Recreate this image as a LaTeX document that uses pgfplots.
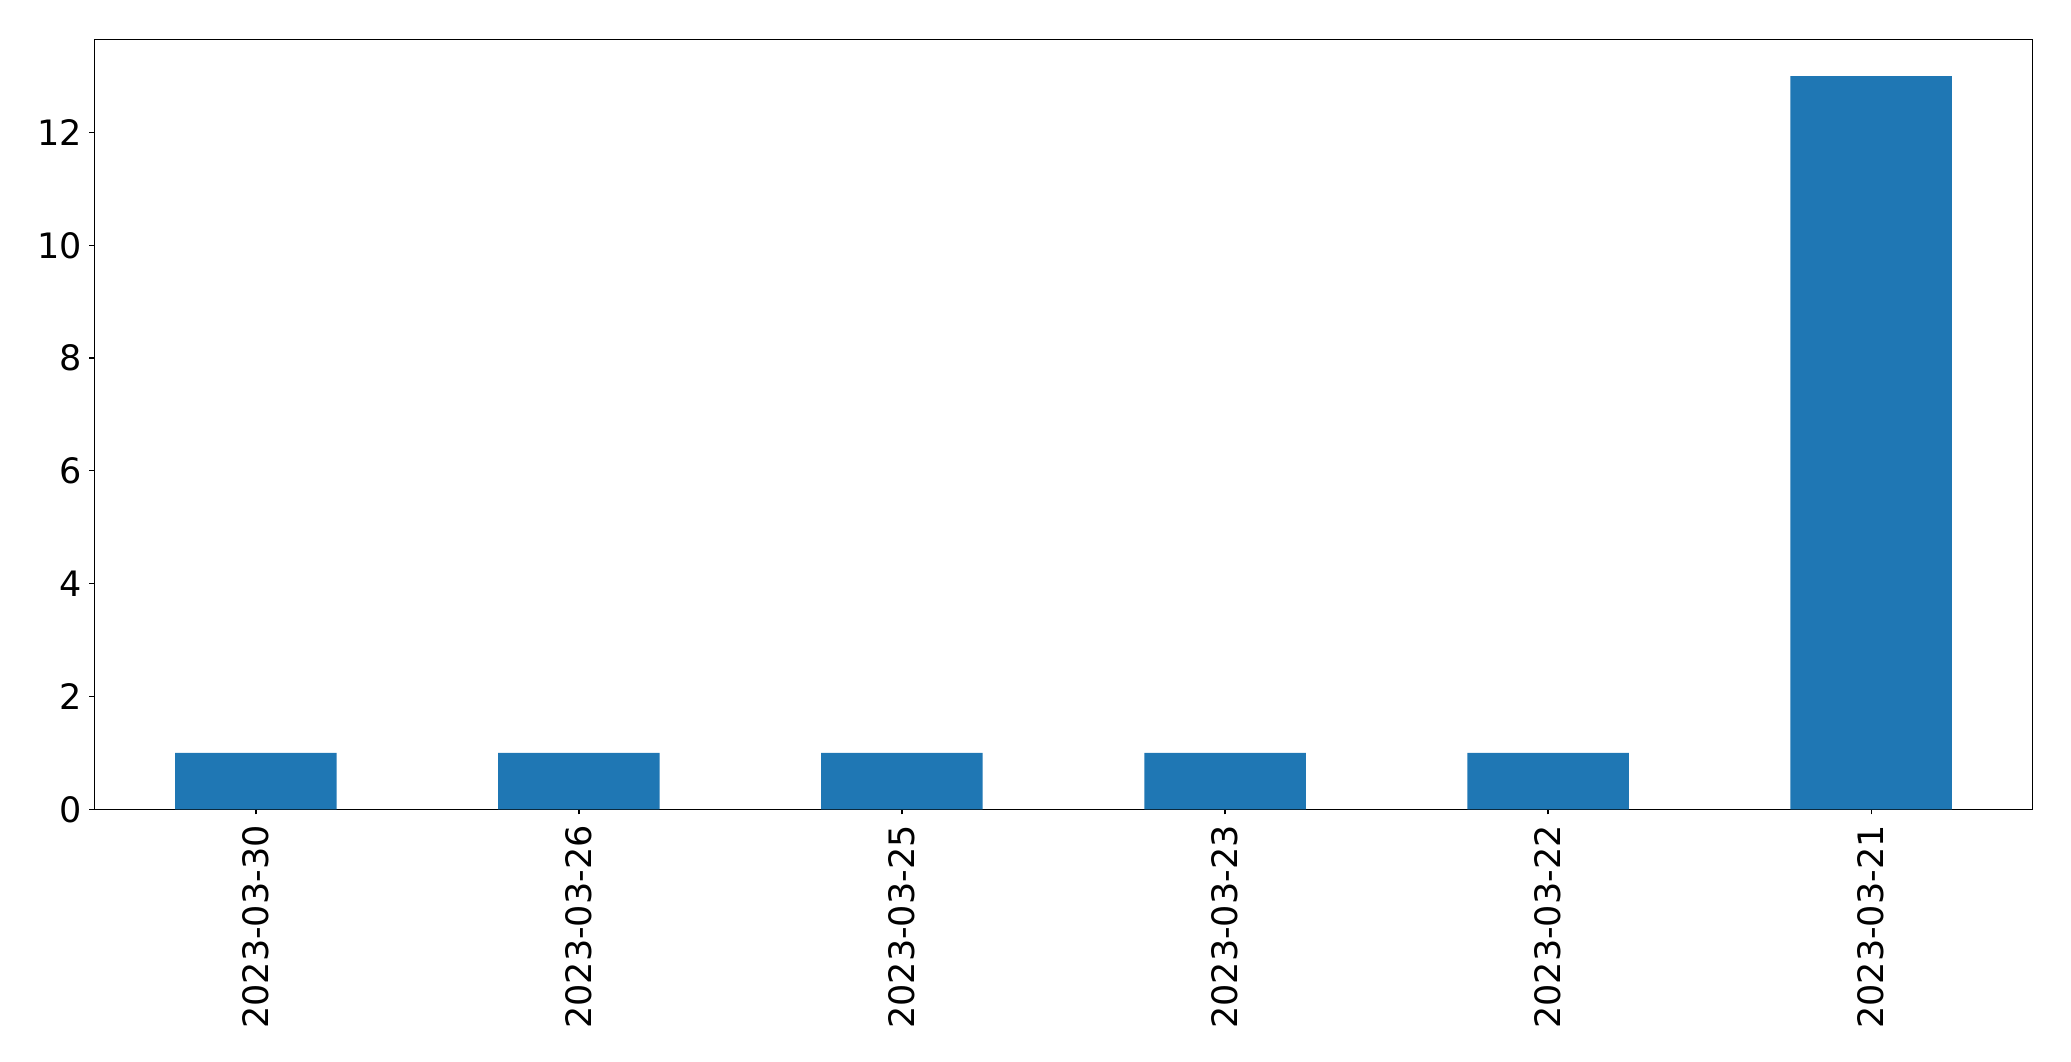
\documentclass[border=0pt]{standalone}
\usepackage{pgfplots}
\pgfplotsset{compat=1.18}
\usepackage{fontspec}
\setmainfont{DejaVu Sans}
\definecolor{mplblue}{HTML}{1F77B4}
\begin{document}
\begin{tikzpicture}
\path[use as bounding box] (-47.2pt,-125.9pt) rectangle (988.4pt,404.7pt);
\begin{axis}[
  at={(0,0)}, anchor=south west,
  scale only axis,
  width=969.2pt, height=385pt,
  xmin=-0.5, xmax=5.5,
  ymin=0, ymax=13.65,
  xtick={0,1,2,3,4,5},
  xticklabels={2023-03-30,2023-03-26,2023-03-25,2023-03-23,2023-03-22,2023-03-21},
  ytick={0,2,4,6,8,10,12},
  xtick pos=bottom, ytick pos=left,
  tick align=outside,
  major tick length=2.5pt,
  tick style={black, line width=0.6pt},
  axis line style={black, line width=0.6pt},
  /pgf/number format/assume math mode=true,
  ticklabel style={font=\fontsize{17.5}{21}\selectfont},
  x tick label style={rotate=90, anchor=east, inner sep=0pt, outer sep=0pt, xshift=-5.5pt},
  xticklabel shift=0pt,
  y tick label style={inner sep=0pt, xshift=-3.5pt},
  ybar, bar width=0.5,
]
\addplot[fill=mplblue, draw=none] coordinates {(0,1) (1,1) (2,1) (3,1) (4,1) (5,13)};
\end{axis}
\end{tikzpicture}
\end{document}
